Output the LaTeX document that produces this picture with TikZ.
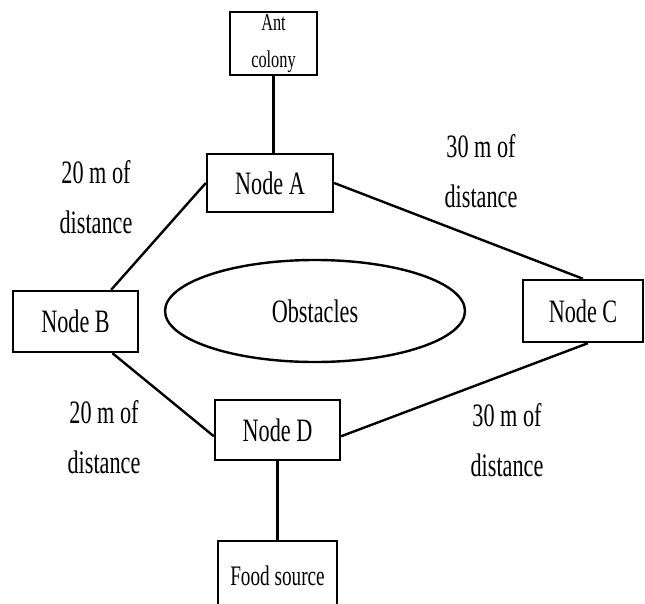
\documentclass[tikz,border=0pt]{standalone}
\usepackage{fontspec}
\setmainfont[FakeStretch=0.68]{Liberation Serif}
\usetikzlibrary{shapes.geometric,calc}

\begin{document}
\begin{tikzpicture}[x=0.75pt,y=-0.75pt,line width=1.8pt,
    box/.style={draw,rectangle,inner sep=0pt,align=center,font=\fontsize{24.5}{29}\selectfont},
    dist/.style={align=center,font=\fontsize{24.5}{37.5}\selectfont}]
          \clip (0,0) rectangle (645,603);
          % six boxes
          \node[box,minimum width=65.25pt,minimum height=47.25pt,font=\fontsize{18}{27.75}\selectfont] (colony) at (273.5,43.5) {Ant\\colony};
          \node[box,minimum width=94.5pt,minimum height=43.5pt] (A) at (270,183) {Node A};
          \node[box,minimum width=93.75pt,minimum height=45.75pt] (B) at (75.5,321.5) {Node B};
          \node[box,minimum width=90pt,minimum height=46.5pt] (C) at (583,311) {Node C};
          \node[box,minimum width=93.75pt,minimum height=45pt] (D) at (277.5,430) {Node D};
          \node[box,minimum width=89.25pt,minimum height=52.5pt,font=\fontsize{21.2}{26}\selectfont] (food) at (277.5,576) {Food source};
          % one ellipse
          \node[draw,ellipse,inner sep=0pt,minimum width=225pt,minimum height=76.5pt,font=\fontsize{24.5}{29}\selectfont] (obst) at (315,311) {Obstacles};
          % six paths
          \draw (colony.south) -- (colony.south |- A.north);
          \draw (A.west) -- ($(B.north west)!.78!(B.north east)$);
          \draw (A.east) -- (C.north);
          \draw ($(B.south west)!.79!(B.south east)$) -- ($(D.north west)!.6!(D.south west)$);
          \draw ($(D.north east)!.6!(D.south east)$) -- ($(C.south west)!.54!(C.south east)$);
          \draw (D.south) -- (food.north);
          % four distances
          \node[dist] (dab) at (96,197) {20 m of\\distance};
          \node[dist] (dac) at (481,171) {30 m of\\distance};
          \node[dist] (dbd) at (104,437) {20 m of\\distance};
          \node[dist] (dcd) at (507,440) {30 m of\\distance};
        \end{tikzpicture}
\end{document}
